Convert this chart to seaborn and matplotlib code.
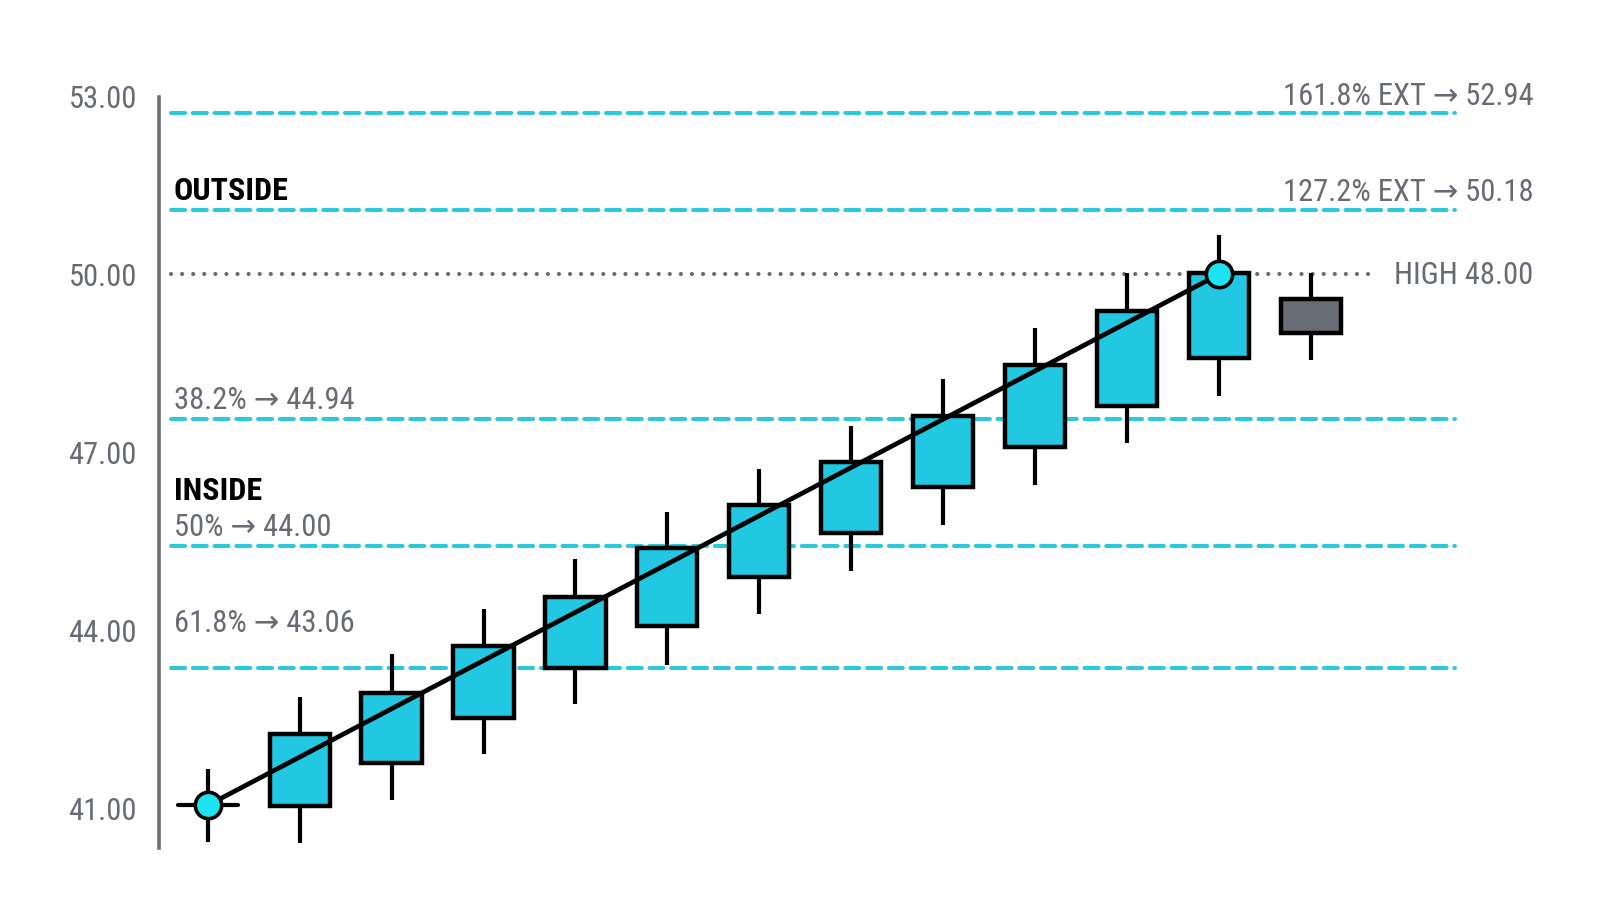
import numpy as np
import pandas as pd
import matplotlib
matplotlib.use("Agg")
import matplotlib.pyplot as plt
import seaborn as sns

# candle values
bars = list(range(13))
opens = [41.05, 41.03, 41.76, 42.53, 43.36, 44.07, 44.90, 45.64, 46.41, 47.09, 47.78, 48.59, 49.59]
closes = [41.05, 42.26, 42.95, 43.74, 44.57, 45.38, 46.12, 46.83, 47.62, 48.48, 49.38, 50.02, 49.02]
highs = [41.67, 42.88, 43.60, 44.36, 45.21, 46.00, 46.72, 47.45, 48.24, 49.10, 50.03, 50.66, 50.03]
lows = [40.43, 40.41, 41.14, 41.91, 42.76, 43.41, 44.28, 45.00, 45.78, 46.45, 47.16, 47.95, 48.55]

# fib levels (line position, label)
ext_levels = [52.72, 51.09]
ext_labels = ["161.8% EXT \u2192 52.94", "127.2% EXT \u2192 50.18"]
ret_levels = [47.56, 45.42, 43.37]
ret_labels = ["38.2% \u2192 44.94", "50% \u2192 44.00", "61.8% \u2192 43.06"]
high_level = 50.0
high_label = "HIGH 48.00"

trend_x = [0, 11]
trend_y = [41.05, 50.0]

yticks = [41, 44, 47, 50, 53]

CYAN = "#22c8e2"
LINE_CYAN = "#2cc9da"
GRAY = "#676b72"
FONT = ["Roboto Condensed", "Roboto", "DejaVu Sans"]
FS = 22

sns.set_theme(style="white")
plt.rcParams["font.family"] = FONT

df = pd.DataFrame({"bar": bars, "open": opens, "close": closes, "high": highs, "low": lows})
df["bottom"] = df[["open", "close"]].min(axis=1)
df["height"] = (df["close"] - df["open"]).abs()

fig = plt.figure(figsize=(16, 9.14), dpi=100)
ax = fig.add_axes([0.0994, 0.0722, 0.8112, 0.8222])

# level lines
for lvl in ext_levels + ret_levels:
    ax.plot([-0.40, 13.57], [lvl, lvl], color=LINE_CYAN, lw=2.9,
            dashes=(3.5, 1.9), dash_capstyle="round", zorder=1)
ax.plot([-0.40, 12.70], [high_level, high_level], color=GRAY, lw=3.0,
        dashes=(0.01, 2.65), dash_capstyle="round", zorder=1)

# wicks
ax.vlines(df["bar"], df["low"], df["high"], color="black", lw=3.0, zorder=2)

# bodies
w = 0.655
up = df.iloc[1:12]
ax.bar(up["bar"], up["height"], bottom=up["bottom"], width=w,
       color=CYAN, edgecolor="black", linewidth=3.2, zorder=3)
last = df.iloc[12:]
ax.bar(last["bar"], last["height"], bottom=last["bottom"], width=w,
       color="#686c74", edgecolor="black", linewidth=3.2, zorder=3)
first = df.iloc[0]
ax.plot([first["bar"] - w / 2, first["bar"] + w / 2], [first["open"], first["open"]],
        color="black", lw=3.0, zorder=3)

# trend line with end markers
trend = pd.DataFrame({"x": trend_x, "y": trend_y})
sns.lineplot(data=trend, x="x", y="y", ax=ax, color="black", lw=3.4, zorder=4)
sns.scatterplot(data=trend, x="x", y="y", ax=ax, s=360, color="#1de3f0",
                edgecolor="black", linewidth=2.6, zorder=5)

# labels
for lvl, lab, ty in zip(ext_levels, ext_labels, [53.0, 51.38]):
    ax.text(14.42, ty, lab, ha="right", va="center", fontsize=FS, color=GRAY, clip_on=False)
ax.text(14.42, 49.99, high_label, ha="right", va="center", fontsize=FS, color=GRAY, clip_on=False)
for lab, ty in zip(ret_labels, [47.88, 45.74, 44.12]):
    ax.text(-0.37, ty, lab, ha="left", va="center", fontsize=FS, color=GRAY)
ax.text(-0.37, 51.41, "OUTSIDE", ha="left", va="center", fontsize=23,
        fontweight="bold", color="black")
ax.text(-0.37, 46.35, "INSIDE", ha="left", va="center", fontsize=23,
        fontweight="bold", color="black")

ax.set_xlim(-0.53, 13.59)
ax.set_ylim(40.33, 53.0)
ax.set_yticks(yticks)
ax.set_yticklabels([f"{v:.2f}" for v in yticks])
ax.set_xticks([])
ax.set_xlabel("")
ax.set_ylabel("")
ax.tick_params(axis="y", length=0, pad=16, labelsize=FS, labelcolor=GRAY)
for s in ["top", "right", "bottom"]:
    ax.spines[s].set_visible(False)
ax.spines["left"].set_color("#6b7078")
ax.spines["left"].set_linewidth(2.6)
ax.set_facecolor("white")
ax.grid(False)

fig.savefig("out.png", dpi=100, facecolor="white")
